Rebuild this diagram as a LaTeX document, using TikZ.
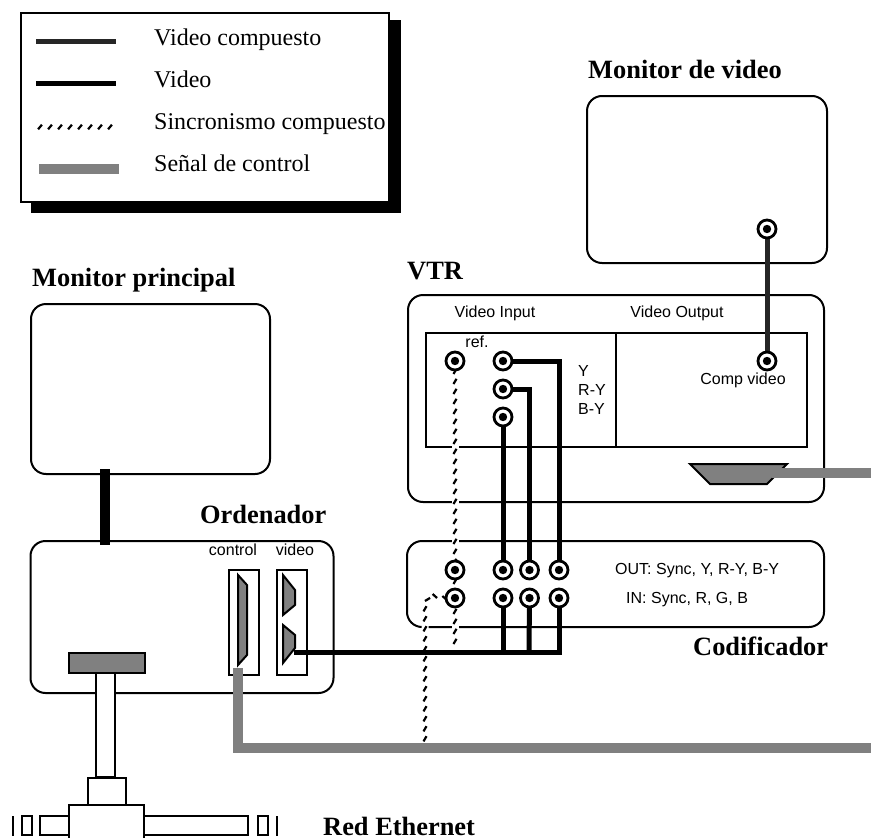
\documentclass[tikz,border=0pt]{standalone}
\usepackage{fontspec}
\setmainfont{Liberation Serif}
\newfontfamily\arialfont{Liberation Sans}
\usetikzlibrary{decorations.markings}
\pgfdeclarelayer{front}
\pgfsetlayers{main,front}
\definecolor{ctrlgray}{gray}{0.5}
\definecolor{compblack}{gray}{0.15}

\begin{document}
\begin{tikzpicture}[x=1pt, y=-1pt,
  panel/.style={draw, line width=2pt, rounded corners=15pt, fill=white, inner sep=0pt},
  plain/.style={draw, line width=2pt, fill=white, inner sep=0pt},
  plug/.style={draw, line width=2pt, fill=ctrlgray, line join=miter},
  jack/.style={circle, draw, line width=2.8pt, fill=white, minimum size=18pt, inner sep=0pt,
    path picture={\fill[black] (path picture bounding box.center) circle (4.2pt);}},
  title/.style={anchor=base west, inner sep=0pt, font=\fontsize{26.4}{28}\selectfont\bfseries},
  keytext/.style={anchor=base west, inner sep=0pt, font=\fontsize{24}{26}\selectfont},
  small/.style={inner sep=0pt, font=\arialfont\fontsize{16}{19}\selectfont},
  compwire/.style={line width=5pt, draw=compblack},
  videowire/.style={line width=5pt, draw=black},
  ctrlwire/.style={line width=10pt, draw=ctrlgray},
  syncwire/.style={draw=white, line width=7pt, decoration={markings,
    mark=between positions 0 and 1 step 10pt with {\draw[black, line width=2.2pt] (#1:-3pt) -- (#1:3pt);}},
    postaction={decorate}}]
\path[use as bounding box, clip] (0,0) rectangle (871,838);

% legend
\node[fill=black, minimum width=370pt, minimum height=193pt, inner sep=0pt] (legendshadow) at (216,116) {};
\node[plain, minimum width=368pt, minimum height=189pt] (legend) at (205,107.5) {};
\coordinate (k1a) at (36,41); \coordinate (k1b) at (116,41);
\coordinate (k2a) at (36,83); \coordinate (k2b) at (116,83);
\coordinate (k3a) at (40,127); \coordinate (k3b) at (117,127);
\coordinate (k4a) at (39,169); \coordinate (k4b) at (119,169);
\draw[compwire] (k1a) -- (k1b);
\draw[videowire] (k2a) -- (k2b);
\path[syncwire=50] (k3a) -- (k3b);
\draw[ctrlwire] (k4a) -- (k4b);
\node[keytext] (k1t) at (154,45) {Video compuesto};
\node[keytext] (k2t) at (154,87) {Video};
\node[keytext] (k3t) at (154,129) {Sincronismo compuesto};
\node[keytext] (k4t) at (154,171) {Señal de control};

% equipment
\node[panel, minimum width=240pt, minimum height=167pt] (monvideo) at (707,179.5) {};
\node[panel, minimum width=239pt, minimum height=170pt] (monmain) at (150.5,389) {};
\node[panel, minimum width=416pt, minimum height=207pt] (vtr) at (616,398.5) {};
\node[plain, minimum width=381pt, minimum height=114pt] (vtrin) at (616.5,390) {};
\node[panel, minimum width=303pt, minimum height=152pt] (pc) at (182,617) {};
\node[panel, minimum width=417pt, minimum height=86pt] (coder) at (615.5,584) {};
\node[plain, minimum width=30pt, minimum height=105pt] (ctrlport) at (244,622.5) {};
\node[plain, minimum width=30pt, minimum height=105pt] (videoport) at (292,622.5) {};
\draw[line width=2pt] (vtrin.north -| 616,0) -- (vtrin.south -| 616,0);

% plugs
\draw[plug] (238,575) -- (247,585) -- (247,655) -- (238,665) -- cycle;
\draw[plug] (283,575) -- (295,590) -- (295,605) -- (283,615) -- cycle;
\draw[plug] (283,625) -- (295,635) -- (295,648) -- (283,663) -- cycle;
\draw[plug] (690,464) -- (787,464) -- (767,484) -- (710,484) -- cycle;
\coordinate (ctrlplug) at (238,668);
\coordinate (videoplug) at (294,652);
\coordinate (vtrplug) at (772,473);
\coordinate (ctrlend) at (871,748);
\coordinate (vtrend) at (871,473);
\coordinate (ctrlbend) at (238,748);
\coordinate (bus1) at (503,652);
\coordinate (bus2) at (529,652);
\coordinate (bus3) at (559,652);
\coordinate (syncend) at (455,650);
\coordinate (syncbend) at (425,604);
\coordinate (syncdrop) at (425,745);

% jacks
\begin{pgfonlayer}{front}
\node[jack] (jmon) at (767,229) {};
\node[jack] (jcomp) at (767,361) {};
\node[jack] (jref) at (455,361) {};
\node[jack] (jy) at (503,361) {};
\node[jack] (jry) at (503,389) {};
\node[jack] (jby) at (503,417) {};
\node[jack] (osync) at (455,570) {};
\node[jack] (oy) at (503,570) {};
\node[jack] (ory) at (529.5,570) {};
\node[jack] (oby) at (559,570) {};
\node[jack] (isync) at (455,598) {};
\node[jack] (ir) at (503,598) {};
\node[jack] (ig) at (529.5,598) {};
\node[jack] (ib) at (559,598) {};
\end{pgfonlayer}

% wires
\path[syncwire=150] (jref.south) -- (syncend);
\path[syncwire=150] (isync.west) -- (430,595) -- (syncbend) -- (syncdrop);
\draw[compwire] (jmon.center) -- (jcomp.center);
\draw[videowire] (jy.center) -| (oby.center);
\draw[videowire] (jry.center) -| (ory.center);
\draw[videowire] (jby.center) -- (oy.center);
\draw[videowire] (videoplug) -- (bus3) -- (ib.center);
\draw[videowire] (ir.center) -- (bus1);
\draw[videowire] (ig.center) -- (bus2);
\draw[ctrlwire] (vtrplug) -- (vtrend);
\draw[ctrlwire, line cap=butt] (ctrlplug) -- (ctrlbend) -- (ctrlend);
\draw[line width=10pt] (monmain.south -| 105,0) ++(0,-6) -- (105,545);

% ethernet
\node[plain, fill=ctrlgray, minimum width=76pt, minimum height=20pt] (ethplug) at (107,663) {};
\node[plain, minimum width=19pt, minimum height=104pt] (ethcable) at (105.5,725) {};
\node[plain, minimum width=38pt, minimum height=27pt] (ethtop) at (107,791.5) {};
\node[plain, minimum width=104pt, minimum height=19pt] (etharmr) at (196,825.5) {};
\node[plain, minimum width=29pt, minimum height=19pt] (etharml) at (54.5,825.5) {};
\node[plain, minimum width=75pt, minimum height=50pt] (ethbody) at (106.5,830) {};
\node[plain, minimum width=10pt, minimum height=19pt] (ethcapl) at (26.5,825.5) {};
\node[plain, minimum width=10pt, minimum height=19pt] (ethcapr) at (263,825.5) {};
\node[fill=black, minimum width=2pt, minimum height=20pt, inner sep=0pt] (ethbarl) at (13,825.5) {};
\node[fill=black, minimum width=2pt, minimum height=20pt, inner sep=0pt] (ethbarr) at (277,825.5) {};

% labels
\node[title] (tmonvideo) at (588,78) {Monitor de video};
\node[title] (tmonmain) at (32,286) {Monitor principal};
\node[title] (tvtr) at (407,279) {VTR};
\node[title] (tpc) at (200,523) {Ordenador};
\node[title] (tcoder) at (693,655) {Codificador};
\node[title] (teth) at (323,835) {Red Ethernet};
\node[small] (lvin) at (495,313) {Video Input};
\node[small] (lvout) at (677,313) {Video Output};
\node[small] (lref) at (477,342) {ref.};
\node[small, anchor=west] (ly) at (578,371) {Y};
\node[small, anchor=west] (lry) at (578,390) {R-Y};
\node[small, anchor=west] (lby) at (578,409) {B-Y};
\node[small] (lcomp) at (743,380) {Comp video};
\node[small] (lctrl) at (233,550) {control};
\node[small] (lvid) at (295,550) {video};
\node[small, anchor=west] (lout) at (615,571) {OUT: Sync, Y, R-Y, B-Y};
\node[small, anchor=west] (lin) at (626,600) {IN: Sync, R, G, B};
\end{tikzpicture}
\end{document}
